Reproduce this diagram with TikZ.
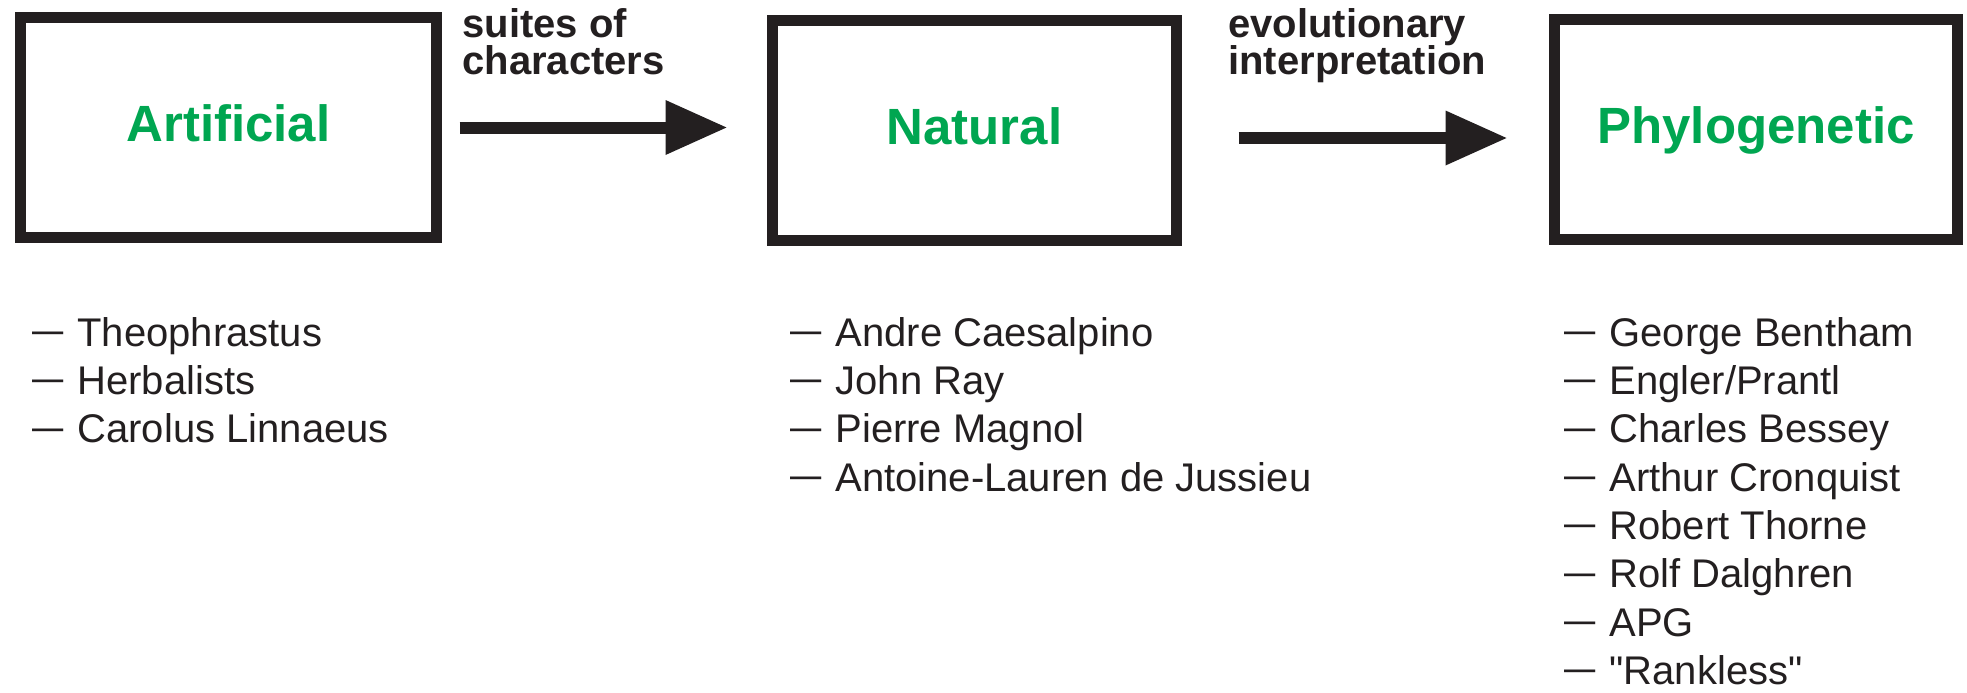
\documentclass[tikz,border=0pt]{standalone}
\usepackage{fontspec}
\setmainfont{Liberation Sans}[Ligatures=TeXOff]
\usetikzlibrary{arrows.meta}

\definecolor{leafgreen}{RGB}{0,166,81}
\definecolor{inkblack}{RGB}{35,31,32}
\setlength{\lineskiplimit}{-100pt}
\newcommand{\itemdash}{\raisebox{0.07em}{\scalebox{0.78}[1]{—}}\hspace{0.35em}}

\tikzset{
	stagebox/.style={draw=inkblack, line width=2.2mm, inner sep=0pt, minimum height=44mm,
		text=leafgreen, font=\fontsize{29pt}{34pt}\selectfont\bfseries, text height=7.65mm, text depth=2.04mm},
	stagearrow/.style={draw=inkblack, line width=2.4mm, -{Triangle[length=12.2mm, width=11mm, line width=0pt]}},
	arrowtext/.style={anchor=north west, align=left, inner sep=0pt, text=inkblack,
		font=\fontsize{22.76pt}{21.05pt}\selectfont\bfseries},
	namelist/.style={anchor=north west, align=left, inner sep=0pt, text=inkblack,
		font=\fontsize{22.76pt}{27.5pt}\selectfont}
}

\begin{document}
\begin{tikzpicture}[x=0.2mm,y=-0.2mm]
	\useasboundingbox (0,0) rectangle (1967,692);
	%boxes
	\node[stagebox, minimum width=83.2mm] (artificial) at (228.5,127.5) {Artificial};
	\node[stagebox, minimum width=80.8mm] (natural) at (974.5,130.5) {Natural};
	\node[stagebox, minimum width=80.6mm] (phylogenetic) at (1756,129) {Phylogenetic};
	
	%arrows
	\draw[stagearrow, shorten <=3.5mm, shorten >=8.1mm] (artificial.east) -- (artificial.east -| natural.west);
	\draw[stagearrow, shorten <=11.3mm, shorten >=8.5mm] ([yshift=-1.5mm]natural.east) -- ([yshift=-1.5mm]natural.east -| phylogenetic.west);
	\node[arrowtext] (suites) at (462,8) {suites of\\characters};
	\node[arrowtext] (evolution) at (1228,8) {evolutionary\\interpretation};
	
	%lists
	\node[namelist] (artnames) at (32,317) {%
		\itemdash Theophrastus\\%
		\itemdash Herbalists\\%
		\itemdash Carolus Linnaeus};
	\node[namelist] (natnames) at (790,317) {%
		\itemdash Andre Caesalpino\\%
		\itemdash John Ray\\%
		\itemdash Pierre Magnol\\%
		\itemdash Antoine-Lauren de Jussieu};
	\node[namelist] (phynames) at (1564,317) {%
		\itemdash George Bentham\\%
		\itemdash Engler/Prantl\\%
		\itemdash Charles Bessey\\%
		\itemdash Arthur Cronquist\\%
		\itemdash Robert Thorne\\%
		\itemdash Rolf Dalghren\\%
		\itemdash APG\\%
		\itemdash "Rankless"};
\end{tikzpicture}
\end{document}
